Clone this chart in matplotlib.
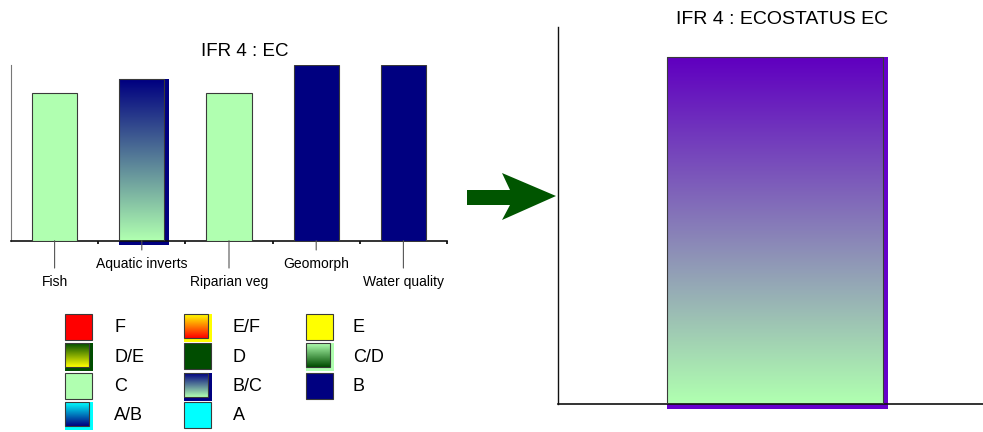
import numpy as np
import matplotlib
matplotlib.use("Agg")
import matplotlib.pyplot as plt
from matplotlib.colors import to_rgb
from matplotlib.patches import Rectangle, Polygon

plt.rcParams['font.family'] = ['Liberation Sans', 'DejaVu Sans']

# --- data ---
components = ["Fish", "Aquatic inverts", "Riparian veg", "Geomorph", "Water quality"]
component_ec = [84, 92, 84, 100, 100]
component_class = ["C", "B/C", "C", "B", "B"]

ecostatus_value = 92
ecostatus_top = "#6000C0"
ecostatus_bottom = "#B0FFB0"

legend_classes = ["F", "E/F", "E", "D/E", "D", "C/D", "C", "B/C", "B", "A/B", "A"]
CLASS_COLORS = {
    "F": "#FF0000",
    "E": "#FFFF00",
    "D": "#004D00",
    "C": "#B0FFB0",
    "B": "#000080",
    "A": "#00FFFF",
}

W, H = 983, 432
EDGE = "#3a3a3a"


def gradient(ax, x0, x1, yb, yt, top, bottom, z=2):
    # row 0 = bottom colour, last row = top colour
    t = np.linspace(0, 1, 64)[:, None, None]
    img = (1 - t) * np.array(to_rgb(bottom)) + t * np.array(to_rgb(top))
    ax.imshow(img, extent=(x0, x1, yb, yt), origin="lower",
              aspect="auto", interpolation="bilinear", zorder=z)


def px_size(ax):
    bb = ax.get_position()
    xl, yl = ax.get_xlim(), ax.get_ylim()
    return ((xl[1] - xl[0]) / (bb.width * W), (yl[1] - yl[0]) / (bb.height * H))


def draw_bar(ax, x, width, value, top, bottom=None, shadow=None, shadow_px=4.5):
    x0, x1 = x - width / 2, x + width / 2
    if bottom is None:
        ax.bar(x, value, width, color=top, edgecolor=EDGE, lw=0.8, zorder=3)
        return
    dx, dy = px_size(ax)
    ax.add_patch(Rectangle((x0, -shadow_px * dy), width + shadow_px * dx,
                           value + shadow_px * dy, color=shadow, lw=0,
                           zorder=1, clip_on=False))
    gradient(ax, x0, x1, 0, value, top, bottom)
    ax.bar(x, value, width, facecolor="none", edgecolor=EDGE, lw=0.8, zorder=3)


def class_style(c):
    if "/" in c:
        a, b = c.split("/")
        return CLASS_COLORS[a], CLASS_COLORS[b], CLASS_COLORS[a]
    return CLASS_COLORS[c], None, None


fig = plt.figure(figsize=(W / 100, H / 100), dpi=100)

# overlay in pixel coordinates for legend and arrow
canvas = fig.add_axes([0, 0, 1, 1])
canvas.set_xlim(0, W)
canvas.set_ylim(H, 0)
canvas.axis("off")

# === left: component ECs ===
ax = fig.add_axes([11 / W, (H - 240.7) / H, 436 / W, 175.7 / H])
ax.set_xlim(-0.5, len(components) - 0.5)
ax.set_ylim(0, 100)
for i, (v, c) in enumerate(zip(component_ec, component_class)):
    top, bottom, shadow = class_style(c)
    draw_bar(ax, i, 0.52, v, top, bottom, shadow)
ax.set_xlim(-0.5, len(components) - 0.5)
ax.set_ylim(0, 100)
for s in ["top", "right"]:
    ax.spines[s].set_visible(False)
ax.spines["left"].set_color("#777777")
ax.spines["left"].set_linewidth(0.8)
ax.spines["bottom"].set_color("#111111")
ax.spines["bottom"].set_linewidth(1.2)
ax.set_yticks([])
ax.set_xticks([])
ax.set_xticks(np.arange(0.5, len(components)), minor=True)
ax.tick_params(axis="x", which="minor", color="#111111", width=1.3, length=2.5)

# staggered labels with leader lines
for i, name in enumerate(components):
    drop = 19.7 if i % 2 == 0 else 6.7
    ax.annotate("", xy=(i, 0), xycoords=("data", "axes fraction"),
                xytext=(0, -drop), textcoords="offset points",
                arrowprops=dict(arrowstyle="-", color="#555555", lw=0.8,
                                shrinkA=0, shrinkB=0))
    ax.annotate(name, xy=(i, 0), xycoords=("data", "axes fraction"),
                xytext=(0, -drop - 5.3), textcoords="offset points",
                ha="center", va="top", fontsize=10)

fig.text(245 / W, (H - 51.5) / H, "IFR 4 : EC", ha="center", va="center", fontsize=13.5)

# legend swatches
for k, c in enumerate(legend_classes):
    row, col = divmod(k, 3)
    sx = [65, 184, 306][col]
    lx = [114, 233, 353][col]
    sy = 314 + row * 29.3
    top, bottom, shadow = class_style(c)
    if bottom is None:
        canvas.add_patch(Rectangle((sx, sy), 27, 26, facecolor=top,
                                   edgecolor=EDGE, lw=0.8))
    else:
        canvas.add_patch(Rectangle((sx, sy), 28, 28, color=shadow, lw=0))
        gradient(canvas, sx, sx + 24, sy + 24, sy, top, bottom)
        canvas.add_patch(Rectangle((sx, sy), 24, 24, facecolor="none",
                                   edgecolor=EDGE, lw=0.8, zorder=3))
    canvas.text(lx, sy + 14, c, ha="left", va="center", fontsize=13)

# arrow
canvas.add_patch(Polygon([(467, 190), (510, 190), (502, 173), (556, 196),
                          (502, 220), (510, 205), (467, 205)],
                         closed=True, color="#005500", lw=0))
canvas.set_xlim(0, W)
canvas.set_ylim(H, 0)

# === right: ecostatus ===
ax2 = fig.add_axes([558 / W, (H - 404) / H, 425 / W, 377 / H])
ax2.set_xlim(-0.51, 0.49)
ax2.set_ylim(0, 100)
draw_bar(ax2, 0, 0.508, ecostatus_value, ecostatus_top, ecostatus_bottom,
         "#6600CC", shadow_px=5)
ax2.set_xlim(-0.51, 0.49)
ax2.set_ylim(0, 100)
for s in ["top", "right"]:
    ax2.spines[s].set_visible(False)
ax2.spines["left"].set_color("#111111")
ax2.spines["bottom"].set_color("#111111")
ax2.spines["left"].set_linewidth(1.0)
ax2.spines["bottom"].set_linewidth(1.2)
ax2.set_xticks([])
ax2.set_yticks([])
fig.text(782 / W, (H - 19) / H, "IFR 4 : ECOSTATUS EC", ha="center", va="center",
         fontsize=14)

fig.savefig("out.png", dpi=100)
